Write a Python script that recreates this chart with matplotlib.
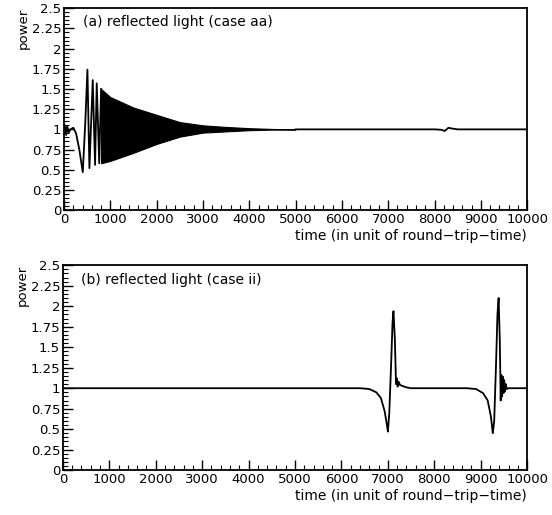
import matplotlib.pyplot as plt
from matplotlib.ticker import MultipleLocator, FuncFormatter

# panel (a): early resolved oscillation (turning points)
a_t = [0, 20, 45, 70, 100, 140, 200, 260, 330, 405, 460, 505, 548, 620, 670, 706, 760, 800]
a_p = [1.0, 1.05, 0.93, 1.04, 0.96, 1.0, 1.02, 0.95, 0.75, 0.47, 1.1, 1.74, 0.52, 1.61, 0.56, 1.57, 0.58, 1.5]
# panel (a): envelope of the dense ringing
env_t = [800, 1000, 1500, 2000, 2500, 3000, 3500, 4000, 4500, 5000]
env_hi = [1.5, 1.4, 1.27, 1.18, 1.09, 1.05, 1.03, 1.015, 1.005, 1.0]
env_lo = [0.58, 0.61, 0.71, 0.82, 0.91, 0.96, 0.975, 0.99, 0.997, 1.0]
# panel (a): flat tail with small wiggle near 8200
tail_t = [5000, 8000, 8150, 8220, 8300, 8380, 8500, 10000]
tail_p = [1.0, 1.0, 0.995, 0.98, 1.02, 1.01, 1.0, 1.0]

# panel (b)
b_t = [0, 6400, 6600, 6750, 6850, 6930, 6980, 7000, 7030, 7070, 7100, 7120, 7150, 7175,
       7190, 7210, 7230, 7260, 7300, 7400, 7500,
       8700, 8900, 9050, 9150, 9220, 9260, 9290, 9330, 9360, 9385, 9410, 9430,
       9445, 9460, 9475, 9490, 9505, 9520, 9540, 9560, 9600, 10000]
b_p = [1.0, 1.0, 0.99, 0.95, 0.88, 0.72, 0.55, 0.47, 0.7, 1.3, 1.8, 1.94, 1.6, 1.05,
       1.12, 1.02, 1.08, 1.04, 1.03, 1.01, 1.0,
       1.0, 0.99, 0.94, 0.85, 0.65, 0.45, 0.6, 1.3, 1.9, 2.1, 1.6, 0.85,
       1.16, 0.9, 1.14, 0.94, 1.1, 0.96, 1.05, 0.99, 1.0, 1.0]

titles = ['(a) reflected light (case aa)', '(b) reflected light (case ii)']

plt.rcParams['font.family'] = 'DejaVu Sans'
fig = plt.figure(figsize=(5.52, 5.15), dpi=100)
ax_a = fig.add_axes([0.116, 0.592, 0.839, 0.392])
ax_b = fig.add_axes([0.114, 0.087, 0.841, 0.398])

ax_a.plot(a_t, a_p, color='black', lw=1.3)
ax_a.fill_between(env_t, env_lo, env_hi, color='black', lw=0.8)
ax_a.plot(tail_t, tail_p, color='black', lw=1.3)
ax_b.plot(b_t, b_p, color='black', lw=1.3)

fmt = FuncFormatter(lambda v, p: f'{v:g}')
for ax, title in zip([ax_a, ax_b], titles):
    ax.set_xlim(0, 10000)
    ax.set_ylim(0, 2.5)
    ax.xaxis.set_major_locator(MultipleLocator(1000))
    ax.xaxis.set_minor_locator(MultipleLocator(200))
    ax.yaxis.set_major_locator(MultipleLocator(0.25))
    ax.yaxis.set_minor_locator(MultipleLocator(0.05))
    ax.yaxis.set_major_formatter(fmt)
    ax.tick_params(which='both', direction='in', top=False, right=False, labelsize=9.5, pad=2)
    ax.tick_params(which='major', length=7, width=1)
    ax.tick_params(which='minor', length=3.5, width=0.8)
    for s in ax.spines.values():
        s.set_linewidth(1.3)
    ax.text(0.04, 0.93, title, transform=ax.transAxes, fontsize=10, va='center')
    ax.set_xlabel('time (in unit of round\u2212trip\u2212time)', fontsize=10, loc='right', labelpad=2)
    ax.set_ylabel('power', fontsize=9.5, loc='top', labelpad=1)

fig.savefig('out.png', dpi=100)
